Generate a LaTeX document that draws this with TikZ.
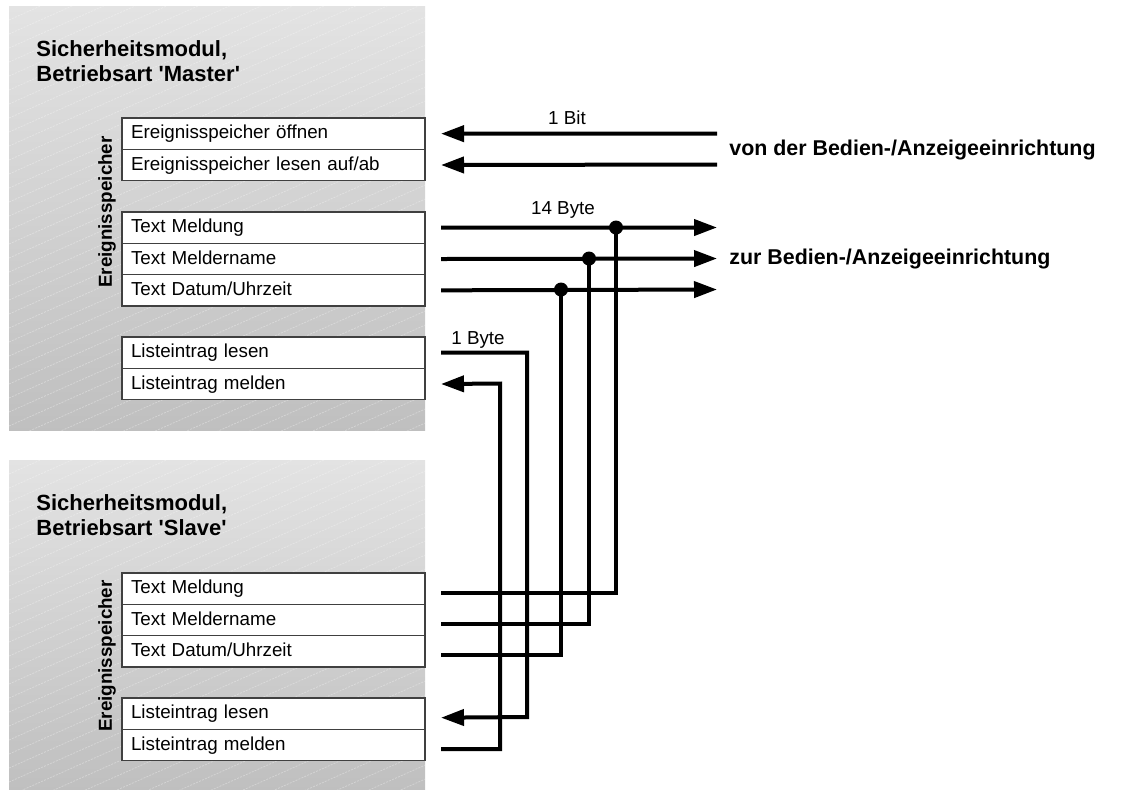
\documentclass[tikz,border=0pt]{standalone}
\usepackage{fontspec}
\setmainfont{Liberation Sans}
\usetikzlibrary{positioning,arrows.meta}
\tikzset{
  feld/.style={draw=black!75, line width=0.6pt, fill=white, outer sep=0pt,
    minimum height=15.5pt, text width=142.5pt, text height=7pt, text depth=2pt,
    inner xsep=4.5pt, align=left, font=\fontsize{9.4}{11}\selectfont},
  titel/.style={anchor=north west, inner sep=0pt, align=left,
    font=\bfseries\fontsize{11}{12.5}\selectfont},
  seite/.style={rotate=90, font=\bfseries\fontsize{9.4}{11}\selectfont},
  ziel/.style={anchor=west, inner sep=0pt, font=\bfseries\fontsize{10.7}{12}\selectfont},
  info/.style={font=\fontsize{9.4}{11}\selectfont},
  wire/.style={line width=2pt},
  pfeil/.style={wire, -{Triangle[length=11.5pt,width=8pt]}},
  punkt/.style={circle, fill, inner sep=0pt, minimum size=7pt}
}
\begin{document}
\begin{tikzpicture}[x=0.5pt,y=-0.5pt]
    \useasboundingbox (0,0) rectangle (1122,789);

    \foreach \ya/\yb in {6/430,460/789} {
      \shade[top color=black!11, bottom color=black!25] (9,\ya) rectangle (425,\yb);
      \begin{scope}
        \clip (9,\ya) rectangle (425,\yb);
        \foreach \k in {0,14,...,640}
          \draw[white, opacity=0.3, line width=0.4pt, dash pattern=on 1pt off 0.6pt]
            (9,\ya+\k) -- ++(450,-200);
      \end{scope}
    }

    \node[titel] (mT) at (36,40) {Sicherheitsmodul,\\Betriebsart \textquotesingle Master\textquotesingle};
    \node[titel] (sT) at (36,494) {Sicherheitsmodul,\\Betriebsart \textquotesingle Slave\textquotesingle};

    \node[seite] (mS) at (107,212) {Ereignisspeicher};
    \node[seite] (sS) at (107,656) {Ereignisspeicher};

    \node[feld, anchor=north west] (mA) at (122,118) {Ereignisspeicher öffnen};
    \node[feld, below=0pt of mA] (mB) {Ereignisspeicher lesen auf/ab};
    \node[feld, anchor=north west] (mC) at (122,212) {Text Meldung};
    \node[feld, below=0pt of mC] (mD) {Text Meldername};
    \node[feld, below=0pt of mD] (mE) {Text Datum/Uhrzeit};
    \node[feld, anchor=north west] (mF) at (122,337) {Listeintrag lesen};
    \node[feld, below=0pt of mF] (mG) {Listeintrag melden};

    \node[feld, anchor=north west] (sC) at (122,573) {Text Meldung};
    \node[feld, below=0pt of sC] (sD) {Text Meldername};
    \node[feld, below=0pt of sD] (sE) {Text Datum/Uhrzeit};
    \node[feld, anchor=north west] (sF) at (122,698) {Listeintrag lesen};
    \node[feld, below=0pt of sF] (sG) {Listeintrag melden};

    \coordinate (inA) at (717,133.5);
    \coordinate (inB) at (717,164.5);
    \coordinate (outC) at (717,227.5);
    \coordinate (outD) at (717,258.5);
    \coordinate (outE) at (717,289.5);

    \node[ziel] (von) at (729,150) {von der Bedien-/Anzeigeeinrichtung};
    \node[ziel] (zur) at (729,259) {zur Bedien-/Anzeigeeinrichtung};

    \draw[pfeil] (inA) -- ([xshift=8pt]mA.east);
    \draw[pfeil] (inB) -- ([xshift=8pt]mB.east);
    \draw[pfeil] ([xshift=8pt]mC.east) -- (outC);
    \draw[pfeil] ([xshift=8pt]mD.east) -- (outD);
    \draw[pfeil] ([xshift=8pt]mE.east) -- (outE);

    \node[info] (bit) at (567,118) {1 Bit};
    \node[info] (byte14) at (563,210) {14 Byte};
    \node[info] (byte1) at (478,340) {1 Byte};

    \node[punkt] (pC) at (616,227.5) {};
    \node[punkt] (pD) at (589,258.5) {};
    \node[punkt] (pE) at (561,289.5) {};

    \draw[wire] ([xshift=8pt,yshift=-2pt]sC.east) -| (pC.center);
    \draw[wire] ([xshift=8pt,yshift=-2pt]sD.east) -| (pD.center);
    \draw[wire] ([xshift=8pt,yshift=-2pt]sE.east) -| (pE.center);

    \draw[pfeil] ([xshift=8pt]mF.east) -| (527,717) -- ([xshift=8pt,yshift=-2pt]sF.east);
    \draw[pfeil] ([xshift=8pt,yshift=-2pt]sG.east) -| (500,383.5) -- ([xshift=8pt]mG.east);
\end{tikzpicture}
\end{document}
